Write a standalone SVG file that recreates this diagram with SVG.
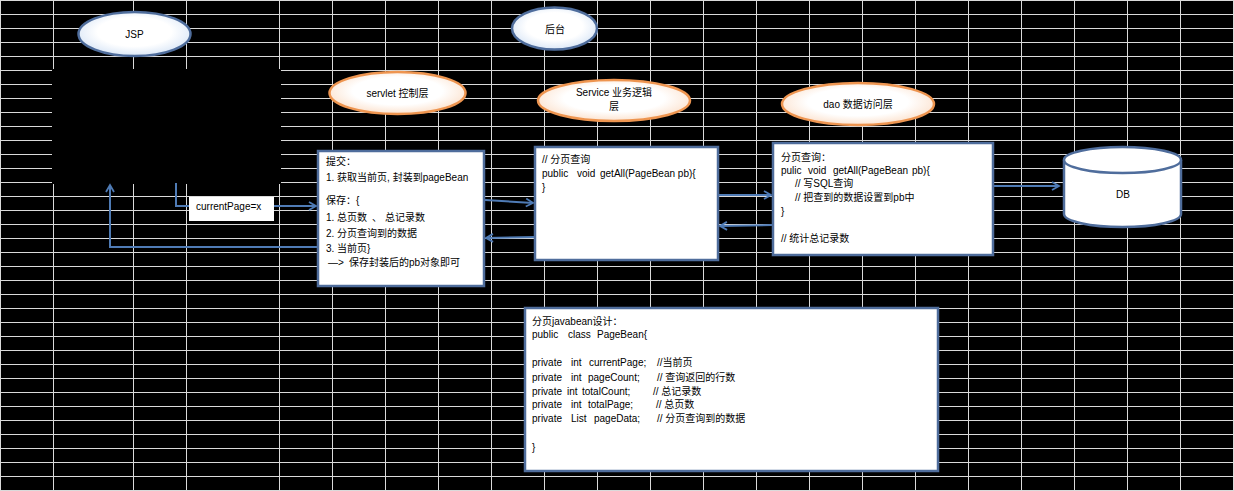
<svg xmlns="http://www.w3.org/2000/svg" width="1234" height="491" viewBox="0 0 1234 491">
<style>
.t{font-family:"Liberation Sans","Noto Sans CJK SC",sans-serif;font-size:10px;fill:#000}
.box{fill:#fff;stroke:#4f6d9c;stroke-width:2.5}
.conn{fill:none;stroke:#4f7bb5;stroke-width:2}
.grid{stroke:#dadada;stroke-width:1;fill:none}
</style>
<defs>
<radialGradient id="gBlue" cx="50%" cy="45%" r="60%">
<stop offset="0.55" stop-color="#ffffff"/><stop offset="1" stop-color="#d3e2f5"/>
</radialGradient>
<radialGradient id="gPeach" cx="50%" cy="45%" r="60%">
<stop offset="0.55" stop-color="#ffffff"/><stop offset="1" stop-color="#fbdcc4"/>
</radialGradient>
<marker id="arr" markerUnits="userSpaceOnUse" markerWidth="12" markerHeight="12" refX="8" refY="5" orient="auto">
<path d="M1,1 L8,5 L1,9" fill="none" stroke="#4f7bb5" stroke-width="1.8"/>
</marker>
</defs>
<rect x="0" y="0" width="1234" height="491" fill="#000"/>
<g id="grid">
<path class="grid" d="M0,0.5H1234M0,14.5H1234M0,28.5H1234M0,42.5H1234M0,56.5H1234M0,70.5H1234M0,84.5H1234M0,98.5H1234M0,112.5H1234M0,126.5H1234M0,140.5H1234M0,154.5H1234M0,168.5H1234M0,182.5H1234M0,196.5H1234M0,210.5H1234M0,224.5H1234M0,238.5H1234M0,252.5H1234M0,266.5H1234M0,280.5H1234M0,294.5H1234M0,308.5H1234M0,322.5H1234M0,336.5H1234M0,350.5H1234M0,364.5H1234M0,378.5H1234M0,392.5H1234M0,406.5H1234M0,420.5H1234M0,434.5H1234M0,448.5H1234M0,462.5H1234M0,476.5H1234M0,490.5H1234"/>
<path class="grid" d="M0.5,0V491M53.5,0V491M133.5,0V491M186.5,0V491M279.5,0V491M332.5,0V491M385.5,0V491M438.5,0V491M491.5,0V491M544.5,0V491M597.5,0V491M650.5,0V491M703.5,0V491M756.5,0V491M809.5,0V491M862.5,0V491M915.5,0V491M968.5,0V491M1021.5,0V491M1074.5,0V491M1127.5,0V491M1180.5,0V491M1233.5,0V491"/>
<rect x="52" y="69" width="229" height="115" fill="#000"/>
</g>
<g id="connectors">
<path class="conn" d="M176,183 V206 H316" marker-end="url(#arr)"/>
<path class="conn" d="M318,247 H110 V185" marker-end="url(#arr)"/>
<path class="conn" d="M485,200 L533,203" marker-end="url(#arr)"/>
<path class="conn" d="M535,237 L486,238" marker-end="url(#arr)"/>
<path class="conn" d="M719,195 L771,195" marker-end="url(#arr)"/>
<path class="conn" d="M772,225 L720,226" marker-end="url(#arr)"/>
<path class="conn" d="M994,186 L1059,186" marker-end="url(#arr)"/>
</g>
<g id="jsp">
<ellipse cx="134.5" cy="34" rx="56" ry="22" fill="url(#gBlue)" stroke="#4f6d9c" stroke-width="2.5"/>
<text class="t" x="134.5" y="37.5" text-anchor="middle">JSP</text>
</g>
<g id="houtai">
<ellipse cx="554.5" cy="28.5" rx="42.5" ry="21" fill="url(#gBlue)" stroke="#4f6d9c" stroke-width="2.5"/>
<text class="t" x="555" y="32.5" text-anchor="middle">后台</text>
</g>
<g id="servlet-label">
<ellipse cx="397.5" cy="93" rx="68" ry="21" fill="url(#gPeach)" stroke="#ee9550" stroke-width="2.5"/>
<text class="t" x="397.5" y="97" text-anchor="middle">servlet 控制层</text>
</g>
<g id="service-label">
<ellipse cx="614" cy="100.5" rx="76" ry="20.5" fill="url(#gPeach)" stroke="#ee9550" stroke-width="2.5"/>
<text class="t" x="614" y="95.5" text-anchor="middle">Service  业务逻辑</text>
<text class="t" x="614" y="110" text-anchor="middle">层</text>
</g>
<g id="dao-label">
<ellipse cx="858" cy="104" rx="76" ry="21" fill="url(#gPeach)" stroke="#ee9550" stroke-width="2.5"/>
<text class="t" x="858" y="107.5" text-anchor="middle">dao 数据访问层</text>
</g>
<g id="current-page">
<rect x="189" y="197" width="85" height="24" fill="#fff"/>
<text class="t" x="196" y="210">currentPage=x</text>
</g>
<g id="servlet-box">
<rect class="box" x="318" y="151" width="166" height="135"/>
<text class="t" x="326" y="165">提交：</text>
<text class="t" x="326" y="180.5">1. 获取当前页, 封装到pageBean</text>
<text class="t" x="326" y="203.5">保存：{</text>
<text class="t" y="220.5"><tspan x="326">1. 总页数</tspan><tspan x="372">、</tspan><tspan x="385">总记录数</tspan></text>
<text class="t" x="326" y="236.5">2. 分页查询到的数据</text>
<text class="t" x="326" y="251.5">3. 当前页}</text>
<text class="t" y="265.5"><tspan x="328">—&gt;</tspan><tspan x="349">保存封装后的pb对象即可</tspan></text>
</g>
<g id="service-box">
<rect class="box" x="535" y="147" width="183" height="113"/>
<text class="t" x="542" y="162.5">// 分页查询</text>
<text class="t" y="176.5"><tspan x="542">public</tspan><tspan x="577">void</tspan><tspan x="600">getAll(PageBean pb){</tspan></text>
<text class="t" x="542" y="190.5">}</text>
</g>
<g id="dao-box">
<rect class="box" x="773" y="143" width="220" height="112"/>
<text class="t" x="781" y="160.5">分页查询：</text>
<text class="t" y="173.5"><tspan x="781">pulic</tspan><tspan x="808">void</tspan><tspan x="833">getAll(PageBean</tspan><tspan x="912">pb){</tspan></text>
<text class="t" x="795" y="186.5">// 写SQL查询</text>
<text class="t" x="795" y="200.5">// 把查到的数据设置到pb中</text>
<text class="t" x="781" y="214.5">}</text>
<text class="t" x="781" y="241.5">// 统计总记录数</text>
</g>
<g id="db">
<path d="M1064,160 V214 A58.5,13 0 0 0 1181,214 V160" fill="#fff" stroke="#4f6d9c" stroke-width="2.5"/>
<ellipse cx="1122.5" cy="160" rx="58.5" ry="13" fill="#fff" stroke="#4f6d9c" stroke-width="2.5"/>
<text class="t" x="1123" y="197.5" text-anchor="middle">DB</text>
</g>
<g id="pagebean-box">
<rect class="box" x="525" y="308" width="413" height="163"/>
<text class="t" x="532" y="324.5">分页javabean设计：</text>
<text class="t" y="337.5"><tspan x="532">public</tspan><tspan x="568">class</tspan><tspan x="597">PageBean{</tspan></text>
<text class="t" y="365.5"><tspan x="532">private</tspan><tspan x="571">int</tspan><tspan x="589">currentPage;</tspan><tspan x="657">//当前页</tspan></text>
<text class="t" y="380.5"><tspan x="532">private</tspan><tspan x="571">int</tspan><tspan x="588">pageCount;</tspan><tspan x="657">// 查询返回的行数</tspan></text>
<text class="t" y="394.5"><tspan x="532">private</tspan><tspan x="567">int</tspan><tspan x="582">totalCount;</tspan><tspan x="653">// 总记录数</tspan></text>
<text class="t" y="407.5"><tspan x="532">private</tspan><tspan x="571">int</tspan><tspan x="588">totalPage;</tspan><tspan x="656">// 总页数</tspan></text>
<text class="t" y="421.5"><tspan x="532">private</tspan><tspan x="571">List</tspan><tspan x="594">pageData;</tspan><tspan x="657">// 分页查询到的数据</tspan></text>
<text class="t" x="532" y="450.5">}</text>
</g>
</svg>
